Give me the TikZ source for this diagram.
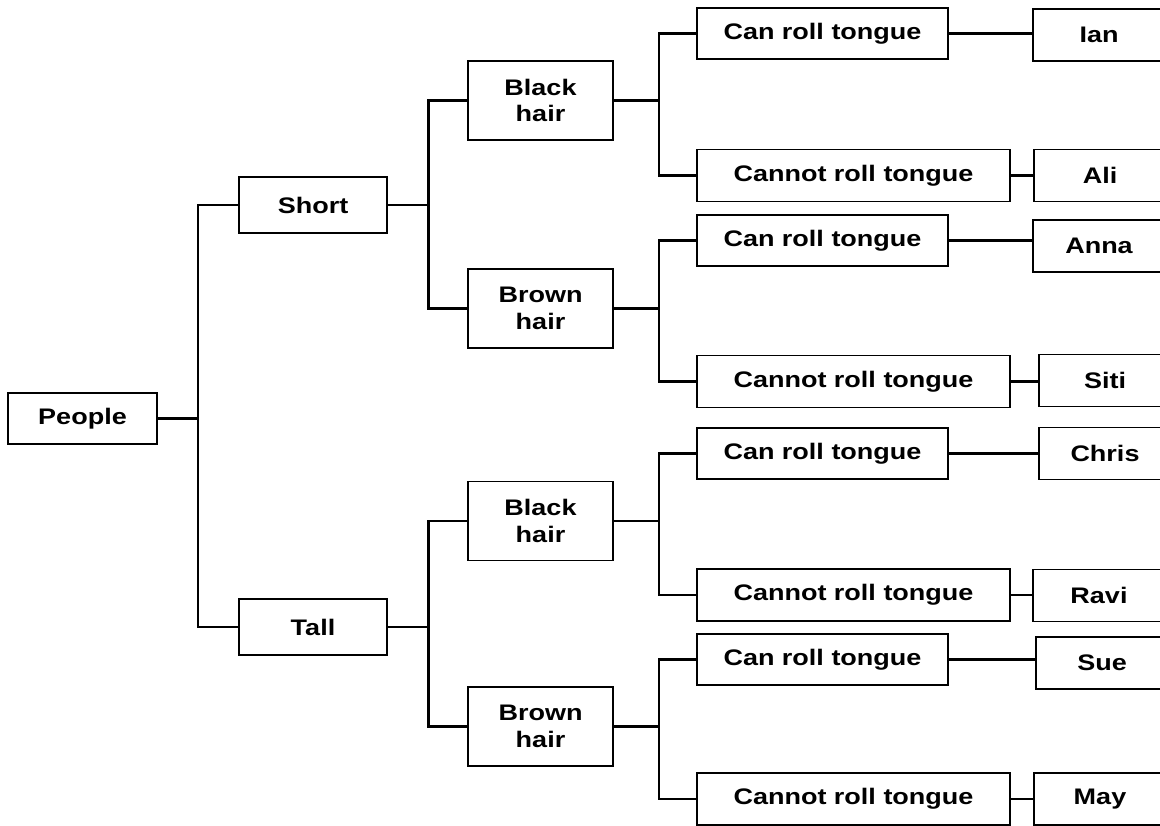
\documentclass[tikz,border=0pt]{standalone}
\usepackage{fontspec}
\newfontfamily\boxfont[FakeStretch=1.2]{Liberation Sans}
\usepackage{tikz}

\begin{document}
\begin{tikzpicture}[
    x=0.025cm, y=-0.025cm,
    box/.style={draw, line width=1.4pt, align=center, inner sep=0pt,
      font=\boxfont\bfseries\fontsize{16pt}{19pt}\selectfont},
    rootbox/.style={box, minimum width=3.725cm, minimum height=1.275cm},
    sizebox/.style={box, minimum width=3.675cm, minimum height=1.4cm},
    hairbox/.style={box, minimum width=3.625cm, minimum height=1.975cm},
    canbox/.style={box, minimum width=6.275cm, minimum height=1.275cm},
    cannotbox/.style={box, minimum width=7.825cm, minimum height=1.3cm},
    namebox/.style={box, anchor=west, minimum width=3.3cm, minimum height=1.3cm},
    link/.style={line width=1.5pt}
    ]
    \useasboundingbox (0,0) rectangle (1160,826);
    % boxes
    \node[rootbox] (people) at (82.5,418.5) {People};
    \node[sizebox] (short) at (313,205) {Short};
    \node[sizebox] (tall) at (313,627) {Tall};
    \node[hairbox] (blackA) at (540.5,100.5) {Black\\hair};
    \node[hairbox] (brownA) at (540.5,308.5) {Brown\\hair};
    \node[hairbox] (blackB) at (540.5,521) {Black\\hair};
    \node[hairbox] (brownB) at (540.5,726.5) {Brown\\hair};
    \node[canbox] (canA) at (822.5,33.5) {Can roll tongue};
    \node[cannotbox] (cannotA) at (853.5,175.5) {Cannot roll tongue};
    \node[canbox] (canB) at (822.5,240.5) {Can roll tongue};
    \node[cannotbox] (cannotB) at (853.5,381.5) {Cannot roll tongue};
    \node[canbox] (canC) at (822.5,453.5) {Can roll tongue};
    \node[cannotbox] (cannotC) at (853.5,595) {Cannot roll tongue};
    \node[canbox] (canD) at (822.5,659.5) {Can roll tongue};
    \node[cannotbox] (cannotD) at (853.5,799) {Cannot roll tongue};
    \node[namebox] (ian) at (1032,35) {Ian};
    \node[namebox] (ali) at (1033,175.5) {Ali};
    \node[namebox] (anna) at (1032,246) {Anna};
    \node[namebox] (siti) at (1038,380.5) {Siti};
    \node[namebox] (chris) at (1038,453.5) {Chris};
    \node[namebox] (ravi) at (1032,595.5) {Ravi};
    \node[namebox] (sue) at (1035,663) {Sue};
    \node[namebox] (may) at (1033,799) {May};
    % branches
    \draw[link] (people.east) -- ++(40,0) coordinate (jpeople);
    \draw[link] (jpeople) |- (short.west);
    \draw[link] (jpeople) |- (tall.west);
    \draw[link] (short.east) -- ++(41,0) coordinate (jshort);
    \draw[link] (jshort) |- (blackA.west);
    \draw[link] (jshort) |- (brownA.west);
    \draw[link] (tall.east) -- ++(41,0) coordinate (jtall);
    \draw[link] (jtall) |- (blackB.west);
    \draw[link] (jtall) |- (brownB.west);
    \draw[link] (blackA.east) -- ++(45,0) coordinate (jblackA);
    \draw[link] (jblackA) |- (canA.west);
    \draw[link] (jblackA) |- (cannotA.west);
    \draw[link] (brownA.east) -- ++(45,0) coordinate (jbrownA);
    \draw[link] (jbrownA) |- (canB.west);
    \draw[link] (jbrownA) |- (cannotB.west);
    \draw[link] (blackB.east) -- ++(45,0) coordinate (jblackB);
    \draw[link] (jblackB) |- (canC.west);
    \draw[link] (jblackB) |- (cannotC.west);
    \draw[link] (brownB.east) -- ++(45,0) coordinate (jbrownB);
    \draw[link] (jbrownB) |- (canD.west);
    \draw[link] (jbrownB) |- (cannotD.west);
    % leaves
    \draw[link] (canA.east) -- (canA.east -| ian.west);
    \draw[link] (cannotA.east) -- (cannotA.east -| ali.west);
    \draw[link] (canB.east) -- (canB.east -| anna.west);
    \draw[link] (cannotB.east) -- (cannotB.east -| siti.west);
    \draw[link] (canC.east) -- (canC.east -| chris.west);
    \draw[link] (cannotC.east) -- (cannotC.east -| ravi.west);
    \draw[link] (canD.east) -- (canD.east -| sue.west);
    \draw[link] (cannotD.east) -- (cannotD.east -| may.west);
\end{tikzpicture}
\end{document}
